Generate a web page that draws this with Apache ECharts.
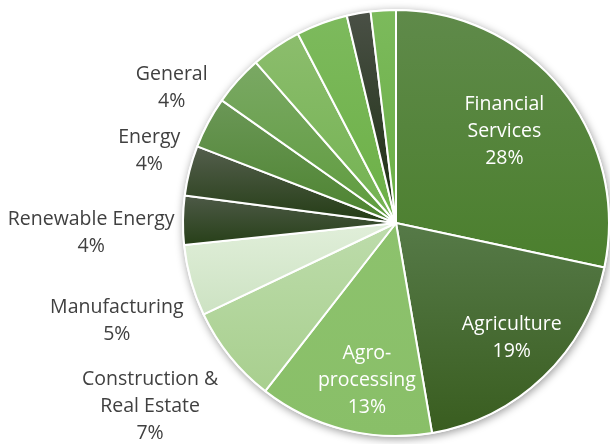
<!DOCTYPE html>
<html>
<head>
<meta charset="utf-8">
<script src="https://cdn.jsdelivr.net/npm/echarts@6/dist/echarts.min.js"></script>
<style>
  html, body { margin: 0; padding: 0; background: #fff; }
  #chart { width: 610px; height: 444px; }
</style>
</head>
<body>
<div id="chart"></div>
<script>
// sectors, clockwise from 12 o'clock
const categories = ['Financial Services', 'Agriculture', 'Agro-processing', 'Construction & Real Estate',
  'Manufacturing', 'Renewable Energy', 'Energy', 'General', 'Other 1', 'Other 2', 'Other 3', 'Other 4', 'Other 5'];
const shares = [28.3, 18.9, 13.2, 7.4, 5.4, 3.7, 3.8, 3.9, 3.8, 3.8, 3.9, 1.8, 1.9];
// text shown in the label (line breaks as on the picture)
const labelText = ['Financial\nServices', 'Agriculture', 'Agro-\nprocessing', 'Construction &\nReal Estate',
  'Manufacturing', 'Renewable Energy', 'Energy', 'General', '', '', '', '', ''];

// top / bottom colour of each slice gradient
const colorTop = ['#5f8a4a', '#567a48', '#8dc26d', '#bddcab', '#e1efda', '#4e5a48', '#555f4e',
  '#6b9757', '#7aa864', '#8cbd6d', '#7dba5d', '#4a5046', '#7cba5c'];
const colorBottom = ['#4b7f2d', '#395d1f', '#89bf68', '#a8cf8e', '#cce2c2', '#263f17', '#233c14',
  '#4c832f', '#5e9c3c', '#72b250', '#6cb046', '#1b2e10', '#6aaf45'];

const CX = 396, CY = 223, R = 213;
// label placement: distance from centre (px) and angle nudge (deg) from slice middle
const labelDist = [142, 163, 160, 307, 296, 305, 257, 262];
const labelNudge = [-1.3, -1.4, -3.6, 2, -3.7, -2.6, 2, 3];

const total = shares.reduce((a, b) => a + b, 0);
const midAngle = [];
let acc = 0;
shares.forEach(v => { midAngle.push((acc + v / 2) / total * 360); acc += v; });

const chart = echarts.init(document.getElementById('chart'));

const data = categories.map((name, i) => ({
  name: name,
  value: shares[i],
  itemStyle: {
    color: new echarts.graphic.LinearGradient(0, 0, 0, 1, [
      {offset: 0, color: colorTop[i]},
      {offset: 1, color: colorBottom[i]}
    ])
  },
  label: {
    show: i < 8,
    color: i < 3 ? '#ffffff' : '#404040'
  }
}));

chart.setOption({
  backgroundColor: '#ffffff',
  animation: false,
  series: [
    {
      // white disc underneath, only for the soft drop shadow
      type: 'pie',
      silent: true,
      center: [CX, CY],
      radius: R + 1,
      label: {show: false},
      labelLine: {show: false},
      itemStyle: {
        color: '#ffffff',
        shadowBlur: 8,
        shadowColor: 'rgba(0,0,0,0.4)',
        shadowOffsetX: 1,
        shadowOffsetY: 2
      },
      data: [{value: 1}]
    },
    {
      type: 'pie',
      center: [CX, CY],
      radius: R,
      startAngle: 90,
      clockwise: true,
      avoidLabelOverlap: false,
      itemStyle: {borderColor: '#ffffff', borderWidth: 2},
      emphasis: {disabled: true},
      labelLine: {show: false},
      label: {
        position: 'inside',
        fontFamily: 'Open Sans',
        fontSize: 19.5,
        lineHeight: 27,
        formatter: p => {
          const lines = (labelText[p.dataIndex] + '\n' + Math.round(p.percent) + '%').split('\n');
          return lines.map(s => '{c|' + s + '}').join('\n');
        },
        rich: {c: {align: 'center', fontFamily: 'Open Sans', fontSize: 19.5, lineHeight: 27}}
      },
      labelLayout: p => {
        const i = p.dataIndex;
        if (i >= labelDist.length) return {};
        const a = (midAngle[i] + labelNudge[i]) * Math.PI / 180;
        return {
          x: CX + labelDist[i] * Math.sin(a),
          y: CY - labelDist[i] * Math.cos(a),
          align: 'center',
          verticalAlign: 'middle'
        };
      },
      data: data
    }
  ]
});
</script>
</body>
</html>
